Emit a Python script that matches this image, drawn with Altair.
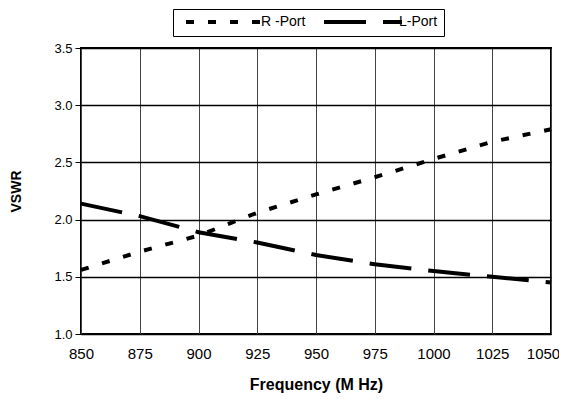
import altair as alt
import pandas as pd

freq = [850, 875, 900, 925, 950, 975, 1000, 1025, 1050]
r_port = [1.56, 1.72, 1.86, 2.06, 2.22, 2.37, 2.53, 2.68, 2.79]
l_port = [2.14, 2.03, 1.89, 1.80, 1.69, 1.61, 1.55, 1.50, 1.45]
series = ["R -Port", "L-Port"]
x_ticks = [850, 875, 900, 925, 950, 975, 1000, 1025, 1050]
y_ticks = [1.0, 1.5, 2.0, 2.5, 3.0, 3.5]

rows = []
for f, v in zip(freq, r_port):
    rows.append({"freq": f, "vswr": v, "port": series[0]})
for f, v in zip(freq, l_port):
    rows.append({"freq": f, "vswr": v, "port": series[1]})
df = pd.DataFrame(rows)

FONT = "Liberation Sans"

chart = alt.Chart(df).mark_line(color="black", strokeWidth=4, strokeCap="butt").encode(
    x=alt.X("freq:Q",
            scale=alt.Scale(domain=[850, 1050], nice=False, zero=False),
            axis=alt.Axis(values=x_ticks, format="d", title="Frequency (M Hz)", ticks=False,
                          labelFontSize=15, labelPadding=12, labelFont=FONT,
                          labelColor="black", titleFont=FONT, titleFontSize=16,
                          titleFontWeight="bold", titleColor="black", titlePadding=15,
                          grid=True, gridColor="#444444", gridWidth=1,
                          labelOffset={"expr": "datum.value == 1050 ? -8 : 0"},
                          domain=False, labelFlush=False)),
    y=alt.Y("vswr:Q",
            scale=alt.Scale(domain=[1.0, 3.5], nice=False, zero=False),
            axis=alt.Axis(values=y_ticks, format=".1f", title="VSWR", tickSize=6,
                          tickColor="black", tickWidth=1, labelFontSize=13,
                          labelPadding=3, labelFont=FONT, labelColor="black",
                          titleFont=FONT, titleFontSize=14, titleFontWeight="bold",
                          titleColor="black", titlePadding=30, grid=True,
                          gridColor="black", gridWidth=1.4, domain=False)),
    strokeDash=alt.StrokeDash("port:N",
                              scale=alt.Scale(domain=series, range=[[8, 14], [42, 17]]),
                              legend=alt.Legend(orient="none", legendX=92, legendY=-39,
                                                direction="horizontal", title=None,
                                                symbolType="M0,0H19.5", symbolSize=64,
                                                symbolStrokeWidth=4,
                                                symbolStrokeColor="black",
                                                labelFontSize=14, labelFont=FONT,
                                                labelColor="black", labelOffset=68,
                                                columnPadding=10, padding=6,
                                                strokeColor="black", fillColor="white",
                                                cornerRadius=0, labelLimit=0)),
    detail="port:N",
).properties(
    width=470,
    height=286,
    autosize=alt.AutoSizeParams(type="none"),
    padding={"left": 73, "top": 40, "right": 8, "bottom": 60},
).configure_view(
    stroke="black", strokeWidth=2
)

chart.save("out.html", embed_options={"renderer": "svg", "actions": False})
